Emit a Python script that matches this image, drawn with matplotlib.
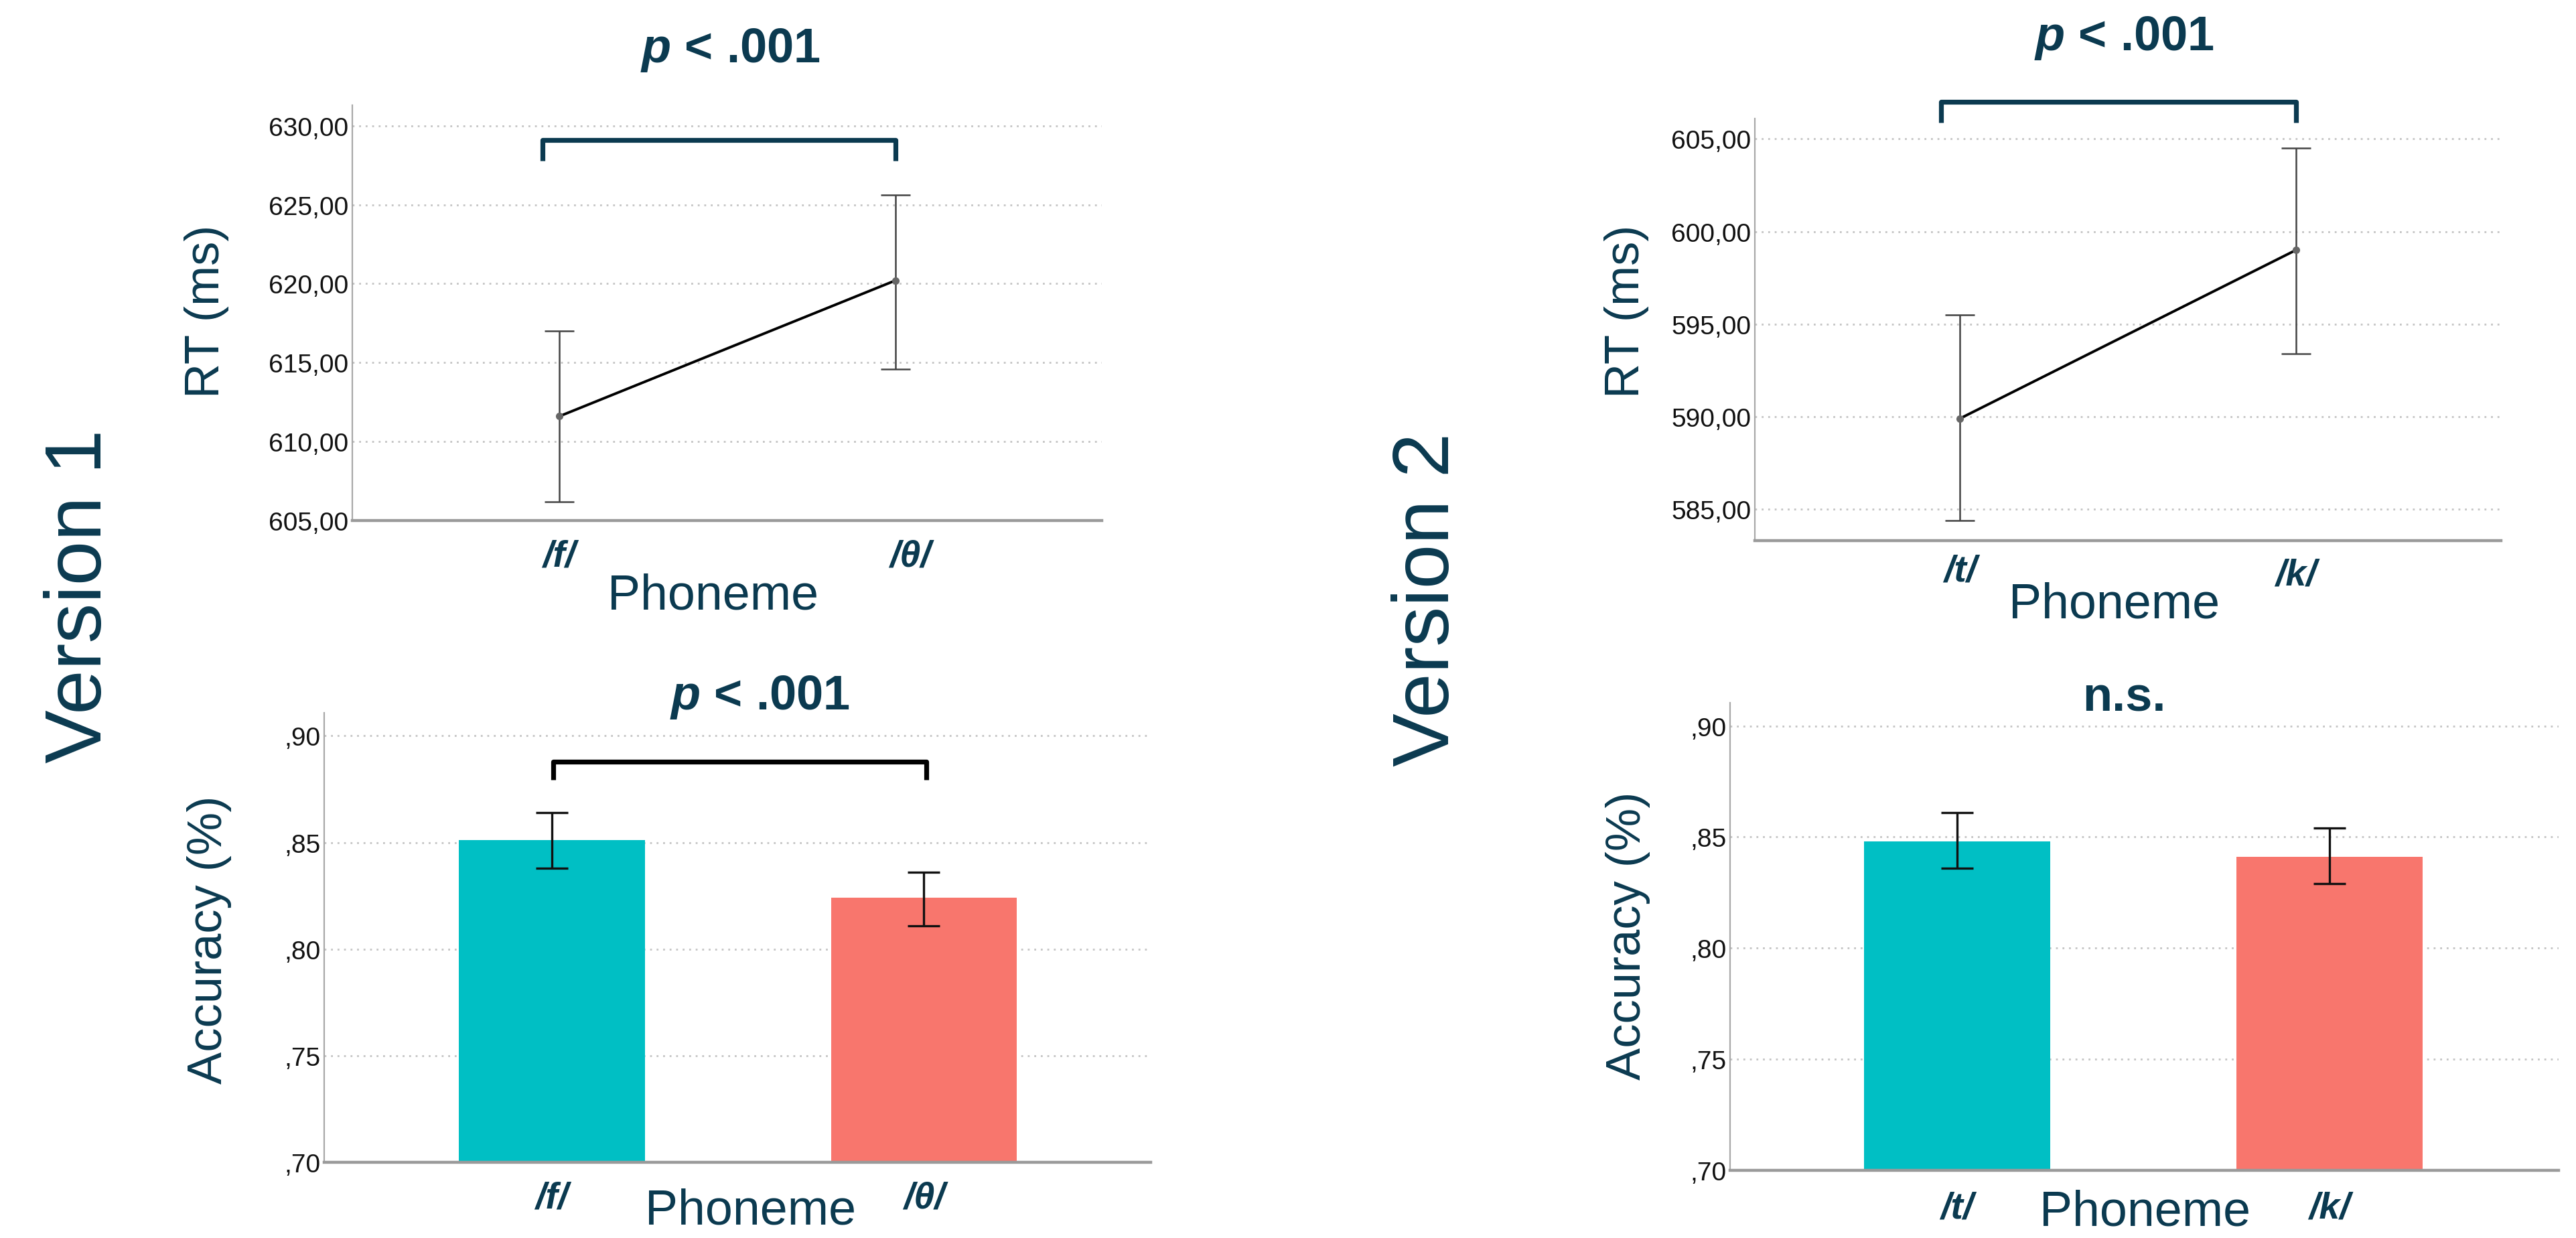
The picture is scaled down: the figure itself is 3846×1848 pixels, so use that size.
import numpy as np
import matplotlib
matplotlib.use('Agg')
import matplotlib.pyplot as plt
import matplotlib.transforms as mtransforms

# values
v1_phonemes = ['/f/', '/θ/']
v1_rt = [611.6, 620.2]
v1_rt_lo = [606.2, 614.6]
v1_rt_hi = [617.0, 625.6]
v1_acc = [0.851, 0.824]
v1_acc_lo = [0.838, 0.811]
v1_acc_hi = [0.864, 0.836]

v2_phonemes = ['/t/', '/k/']
v2_rt = [589.9, 599.0]
v2_rt_lo = [584.4, 593.4]
v2_rt_hi = [595.5, 604.5]
v2_acc = [0.848, 0.841]
v2_acc_lo = [0.836, 0.829]
v2_acc_hi = [0.861, 0.854]

v1_rt_ticks = [605, 610, 615, 620, 625, 630]
v2_rt_ticks = [585, 590, 595, 600, 605]
acc_ticks = [0.70, 0.75, 0.80, 0.85, 0.90]
acc_labels = [',70', ',75', ',80', ',85', ',90']

v1_rt_title = r'$p$ < .001'
v2_rt_title = r'$p$ < .001'
v1_acc_title = r'$p$ < .001'
v2_acc_title = 'n.s.'

NAVY = '#0b3a50'
TEAL = '#00bfc4'
SALMON = '#f8766d'

plt.rcParams['font.family'] = ['Liberation Sans', 'DejaVu Sans']
plt.rcParams['mathtext.fontset'] = 'custom'
plt.rcParams['mathtext.it'] = 'Liberation Sans:italic:bold'

W, H = 3846, 1849
DPI = 200
fig = plt.figure(figsize=(W / DPI, H / DPI), dpi=DPI)


def px_axes(l, t, r, b):
    return fig.add_axes([l / W, 1 - b / H, (r - l) / W, (b - t) / H])


def style_axes(ax, ticks, labels, cats, xpad):
    ax.set_yticks(ticks)
    ax.set_yticklabels(labels, fontsize=14, color='#111111')
    ax.set_xticks(range(len(cats)))
    ax.set_xticklabels(cats, fontsize=20, fontweight='bold',
                       fontstyle='italic', color=NAVY)
    ax.tick_params(axis='both', length=0)
    ax.tick_params(axis='y', pad=2)
    ax.tick_params(axis='x', pad=xpad)
    ax.grid(axis='y', linestyle=(0, (1, 2.5)), color='#c4c4c4', linewidth=1.0)
    ax.set_axisbelow(True)
    for s in ['top', 'right']:
        ax.spines[s].set_visible(False)
    ax.spines['left'].set_color('#a8a8a8')
    ax.spines['left'].set_linewidth(0.8)
    ax.spines['bottom'].set_color('#9a9a9a')
    ax.spines['bottom'].set_linewidth(1.6)


def rt_panel(ax, cats, means, lo, hi, ticks, ylim, xlim, xpad):
    means = np.array(means)
    x = np.arange(len(cats))
    yerr = [means - np.array(lo), np.array(hi) - means]
    ax.errorbar(x, means, yerr=yerr, fmt='none', ecolor='#444444', elinewidth=0.9,
                capsize=8, capthick=0.9, zorder=3)
    ax.plot(x, means, color='black', linewidth=1.4, zorder=4)
    ax.plot(x, means, 'o', color='#666666', markersize=3, zorder=5)
    style_axes(ax, ticks, ['%d,00' % t for t in ticks], cats, xpad)
    ax.set_ylim(*ylim)
    ax.set_xlim(*xlim)


def acc_panel(ax, cats, means, lo, hi, ylim, xlim, xpad):
    means = np.array(means)
    x = np.arange(len(cats))
    yerr = [means - np.array(lo), np.array(hi) - means]
    ax.bar(x, means - 0.70, bottom=0.70, width=0.5, color=[TEAL, SALMON], zorder=2)
    ax.errorbar(x, means, yerr=yerr, fmt='none', ecolor='#111111', elinewidth=1.2,
                capsize=8.5, capthick=1.2, zorder=3)
    style_axes(ax, acc_ticks, acc_labels, cats, xpad)
    ax.set_ylim(*ylim)
    ax.set_xlim(*xlim)


def bracket(ax, x0, x1, y_top, y_leg, color):
    ax.plot([x0, x0, x1, x1], [y_leg, y_top, y_top, y_leg], color=color,
            linewidth=2.6, solid_joinstyle='round', solid_capstyle='butt',
            clip_on=False, zorder=6)


def shift_label(ax, i, dx_px, dy_px):
    lab = ax.get_xticklabels()[i]
    off = mtransforms.ScaledTranslation(dx_px / DPI, dy_px / DPI, fig.dpi_scale_trans)
    lab.set_transform(lab.get_transform() + off)


def fig_text(xp, yp, s, **kw):
    fig.text(xp / W, 1 - yp / H, s, ha='center', va='center', **kw)


# top left: version 1 RT
ax1 = px_axes(526, 158, 1645, 778)
rt_panel(ax1, v1_phonemes, v1_rt, v1_rt_lo, v1_rt_hi, v1_rt_ticks,
         (605, 631.3), (-0.616, 1.614), 10)
bracket(ax1, -0.05, 1.0, 629.1, 627.8, NAVY)
shift_label(ax1, 1, 22, 0)

# top right: version 2 RT
ax2 = px_axes(2620, 178, 3734, 808)
rt_panel(ax2, v2_phonemes, v2_rt, v2_rt_lo, v2_rt_hi, v2_rt_ticks,
         (583.3, 606.1), (-0.611, 1.61), 7)
bracket(ax2, -0.057, 1.0, 607.0, 605.9, NAVY)
shift_label(ax2, 1, 0, -6)

# bottom left: version 1 accuracy
ax3 = px_axes(484, 1065, 1718, 1736)
acc_panel(ax3, v1_phonemes, v1_acc, v1_acc_lo, v1_acc_hi,
          (0.70, 0.9108), (-0.611, 1.609), 10)
bracket(ax3, 0.005, 1.006, 0.888, 0.8794, 'black')

# bottom right: version 2 accuracy
ax4 = px_axes(2583, 1050, 3820, 1748)
acc_panel(ax4, v2_phonemes, v2_acc, v2_acc_lo, v2_acc_hi,
          (0.70, 0.9104), (-0.61, 1.615), 11)

# titles
fig_text(1090, 75, v1_rt_title, fontsize=26, fontweight='bold', color=NAVY)
fig_text(3171, 57, v2_rt_title, fontsize=26, fontweight='bold', color=NAVY)
fig_text(1134, 1041, v1_acc_title, fontsize=26, fontweight='bold', color=NAVY)
fig_text(3171, 1042, v2_acc_title, fontsize=26, fontweight='bold', color=NAVY)

# axis labels
fig_text(308, 465, 'RT (ms)', fontsize=26, rotation=90, color=NAVY)
fig_text(2428, 465, 'RT (ms)', fontsize=26, rotation=90, color=NAVY)
fig_text(312, 1403, 'Accuracy (%)', fontsize=26, rotation=90, color=NAVY)
fig_text(2431, 1397, 'Accuracy (%)', fontsize=26, rotation=90, color=NAVY)

fig_text(1065, 890, 'Phoneme', fontsize=26.5, color=NAVY)
fig_text(3157, 903, 'Phoneme', fontsize=26.5, color=NAVY)
fig_text(1121, 1808, 'Phoneme', fontsize=26.5, color=NAVY)
fig_text(3203, 1810, 'Phoneme', fontsize=26.5, color=NAVY)

# version labels
fig_text(120, 890, 'Version 1', fontsize=43, rotation=90, color=NAVY)
fig_text(2132, 895, 'Version 2', fontsize=43, rotation=90, color=NAVY)

fig.savefig('out.png', dpi=DPI)
